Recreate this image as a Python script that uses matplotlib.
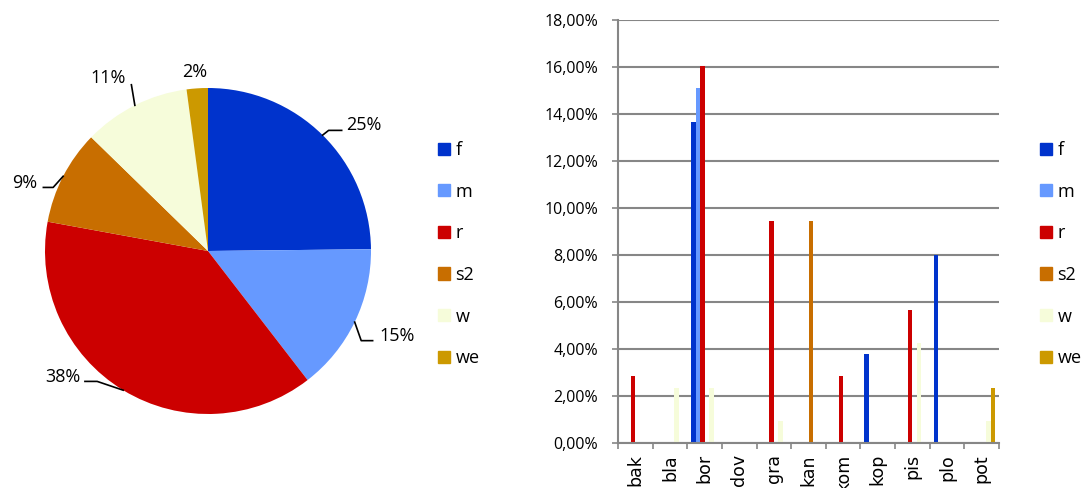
import numpy as np
import matplotlib
matplotlib.use("Agg")
import matplotlib.pyplot as plt
from matplotlib.ticker import FuncFormatter

plt.rcParams["font.family"] = ["Open Sans", "DejaVu Sans"]

# data
series = ["f", "m", "r", "s2", "w", "we"]
pie_share = [24.8, 14.7, 38.3, 9.4, 10.6, 2.1]
pie_labels = ["25%", "15%", "38%", "9%", "11%", "2%"]

places = ["bak", "bla", "bor", "dov", "gra", "kan", "kom", "kop", "pis", "plo", "pot"]
val_f = [0, 0, 13.66, 0, 0, 0, 0, 3.77, 0, 8.01, 0]
val_m = [0, 0, 15.09, 0, 0, 0, 0, 0, 0, 0, 0]
val_r = [2.83, 0, 16.04, 0, 9.43, 0, 2.83, 0, 5.66, 0, 0]
val_s2 = [0, 0, 0, 0, 0, 9.43, 0, 0, 0, 0, 0]
val_w = [0, 2.36, 2.36, 0, 0.94, 0, 0, 0, 4.25, 0, 0.94]
val_we = [0, 0, 0, 0, 0, 0, 0, 0, 0, 0, 2.36]

colors = ["#0033CC", "#6699FF", "#CC0000", "#C86E00", "#F6FCDA", "#CC9900"]
grid_col = "#868686"

# leader-line layout for pie labels (elbow point, line end, text anchor), in pie radius units
label_layout = [
    ((0.74, 0.74), (0.82, 0.74), (0.85, 0.77), "left"),
    ((0.94, -0.55), (1.01, -0.55), (1.05, -0.52), "left"),
    ((-0.68, -0.80), (-0.755, -0.80), (-0.78, -0.77), "right"),
    ((-0.95, 0.39), (-1.01, 0.39), (-1.05, 0.42), "right"),
    ((-0.47, 1.02), (-0.47, 1.02), (-0.61, 1.06), "center"),
    (None, None, (-0.08, 1.10), "center"),
]

fig = plt.figure(figsize=(10.85, 4.88), dpi=100)

# ---- pie chart ----
ax1 = fig.add_axes([45 / 1085, 74 / 488, 326 / 1085, 326 / 488])
wedges, _ = ax1.pie(pie_share, colors=colors, startangle=90, counterclock=False,
                    radius=1, wedgeprops=dict(linewidth=0))
ax1.set_xlim(-1, 1)
ax1.set_ylim(-1, 1)
ax1.set_aspect("equal")
ax1.axis("off")

for w, lab, (elbow, end, txt, ha) in zip(wedges, pie_labels, label_layout):
    ang = np.deg2rad((w.theta1 + w.theta2) / 2)
    ex, ey = np.cos(ang), np.sin(ang)
    if elbow is not None:
        ax1.plot([ex, elbow[0], end[0]], [ey, elbow[1], end[1]], color="black",
                 lw=1.2, clip_on=False)
    ax1.text(txt[0], txt[1], lab, ha=ha, va="center", fontsize=13, clip_on=False)

handles = [plt.Rectangle((0, 0), 1, 1, color=c) for c in colors]
leg_kw = dict(loc="upper left", frameon=False, fontsize=13, handlelength=0.67,
              handleheight=0.67, handletextpad=0.3, labelspacing=1.31, borderaxespad=0,
              borderpad=0)
fig.legend(handles, series, bbox_to_anchor=(438 / 1085, 1 - 141 / 488), **leg_kw)

# ---- bar chart ----
ax2 = fig.add_axes([618 / 1085, 45 / 488, 381 / 1085, 423 / 488])
x = np.arange(len(places))
bw = 0.13
all_vals = [val_f, val_m, val_r, val_s2, val_w, val_we]
for i, (vals, c) in enumerate(zip(all_vals, colors)):
    ax2.bar(x + 0.11 + bw * (i + 0.5), vals, width=bw, color=c, linewidth=0)

ax2.set_xlim(0, len(places))
ax2.set_ylim(0, 18)
ax2.set_yticks(np.arange(0, 18.01, 2))
ax2.yaxis.set_major_formatter(FuncFormatter(lambda v, p: f"{v:.2f}%".replace(".", ",")))
ax2.yaxis.grid(True, color=grid_col, lw=1.5)
ax2.set_axisbelow(True)
ax2.set_xticks(np.arange(0, len(places) + 1))
ax2.set_xticklabels([])
ax2.set_xticks(x + 0.5, minor=True)
ax2.set_xticklabels(places, minor=True, rotation=90, va="top", fontsize=12.5,
                    family="DejaVu Sans")
ax2.tick_params(axis="x", which="minor", length=0, pad=8)
ax2.tick_params(axis="x", which="major", length=4.3, color=grid_col, width=1.2)
ax2.tick_params(axis="y", length=4.3, color=grid_col, width=1.2, labelsize=11.5, pad=10)
for s in ["top", "right"]:
    ax2.spines[s].set_visible(False)
for s in ["left", "bottom"]:
    ax2.spines[s].set_color(grid_col)
    ax2.spines[s].set_linewidth(1.5)

fig.legend(handles, series, bbox_to_anchor=(1040 / 1085, 1 - 141 / 488), **leg_kw)

fig.savefig("out.png", dpi=100)
